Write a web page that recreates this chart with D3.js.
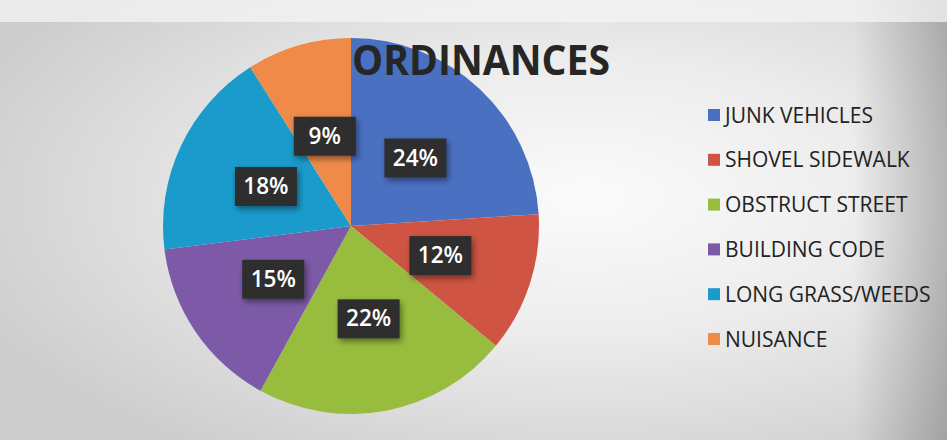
<!DOCTYPE html>
<html>
<head>
<meta charset="utf-8">
<script src="https://cdn.jsdelivr.net/npm/d3@7"></script>
<style>
  html, body { margin: 0; padding: 0; background: #ddd; }
  svg { display: block; }
</style>
</head>
<body>
<svg id="chart" width="947" height="440"></svg>
<script>
const categories = ["JUNK VEHICLES", "SHOVEL SIDEWALK", "OBSTRUCT STREET", "BUILDING CODE", "LONG GRASS/WEEDS", "NUISANCE"];
const values = [24, 12, 22, 15, 18, 9];
const colors = ["#4a70c2", "#cf5444", "#98bd3e", "#7d5aa8", "#1b9bcb", "#ef8a48"];
const title = "ORDINANCES";

const W = 947, H = 440;
const svg = d3.select("#chart");
const defs = svg.append("defs");

// background (scanned paper look)
const bg = defs.append("radialGradient").attr("id", "bg")
  .attr("cx", "62%").attr("cy", "45%").attr("r", "70%");
bg.append("stop").attr("offset", "0%").attr("stop-color", "#fbfbfb");
bg.append("stop").attr("offset", "45%").attr("stop-color", "#ececec");
bg.append("stop").attr("offset", "100%").attr("stop-color", "#cdcdcd");
svg.append("rect").attr("width", W).attr("height", H).attr("fill", "url(#bg)");
const edge = defs.append("linearGradient").attr("id", "edge").attr("x1", "0").attr("x2", "1");
edge.append("stop").attr("offset", "0.9").attr("stop-color", "#000").attr("stop-opacity", 0);
edge.append("stop").attr("offset", "1").attr("stop-color", "#000").attr("stop-opacity", 0.22);
svg.append("rect").attr("width", W).attr("height", H).attr("fill", "url(#edge)");
svg.append("rect").attr("width", W).attr("height", 22).attr("fill", "#f4f4f4").attr("opacity", 0.75);

const shadow = defs.append("filter").attr("id", "shadow")
  .attr("x", "-30%").attr("y", "-30%").attr("width", "160%").attr("height", "160%");
shadow.append("feDropShadow").attr("dx", 2).attr("dy", 3).attr("stdDeviation", 3)
  .attr("flood-color", "#000").attr("flood-opacity", 0.45);

const cx = 351, cy = 226, R = 188;
const color = d3.scaleOrdinal().domain(categories).range(colors);
const pie = d3.pie().sort(null).value(d => d.v);
const data = categories.map((c, i) => ({ c, v: values[i] }));
const arcs = pie(data);
const arc = d3.arc().innerRadius(0).outerRadius(R);

const g = svg.append("g").attr("transform", `translate(${cx},${cy})`);
g.selectAll("path.slice").data(arcs).join("path")
  .attr("class", "slice")
  .attr("d", arc)
  .attr("fill", d => color(d.data.c));

// title
svg.append("text")
  .attr("x", 352).attr("y", 75)
  .attr("font-family", "'Open Sans', sans-serif")
  .attr("font-weight", 700)
  .attr("font-size", 42)
  .attr("fill", "#262626")
  .attr("textLength", 258)
  .attr("lengthAdjust", "spacingAndGlyphs")
  .text(title);

// data labels
const total = d3.sum(values);
const lab = g.selectAll("g.lab").data(arcs).join("g")
  .attr("class", "lab")
  .attr("transform", d => `translate(${arc.centroid(d)})`);
lab.append("rect")
  .attr("x", -31).attr("y", -19).attr("width", 62).attr("height", 39)
  .attr("fill", "#2f2f2f")
  .attr("filter", "url(#shadow)");
lab.append("text")
  .attr("text-anchor", "middle")
  .attr("dy", "0.36em")
  .attr("font-family", "'Open Sans', sans-serif")
  .attr("font-weight", 600)
  .attr("font-size", 22.5)
  .attr("fill", "#fff")
  .text(d => Math.round(d.data.v / total * 100) + "%");

// legend
const legend = svg.append("g").attr("transform", "translate(708,115)");
const item = legend.selectAll("g").data(categories).join("g")
  .attr("transform", (d, i) => `translate(0,${i * 44.8})`);
item.append("rect")
  .attr("x", 0).attr("y", -6).attr("width", 12).attr("height", 12)
  .attr("fill", d => color(d));
item.append("text")
  .attr("x", 17).attr("dy", "0.36em")
  .attr("font-family", "'Open Sans', sans-serif")
  .attr("font-size", 21)
  .attr("fill", "#222")
  .text(d => d);
</script>
</body>
</html>
